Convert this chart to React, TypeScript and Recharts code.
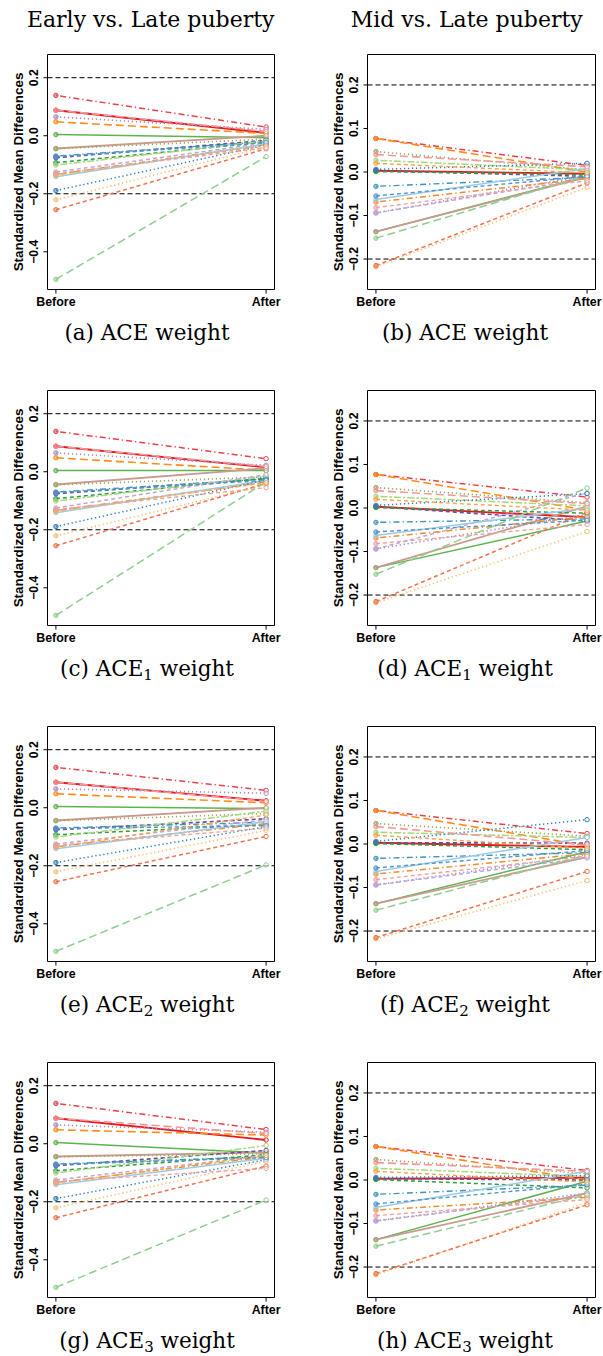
import React from 'react';
import { LineChart, Line, XAxis, YAxis, ReferenceLine, ReferenceArea } from 'recharts';

// ---------------- data ----------------
const timepoints = ['Before', 'After'];
const covariates = [
  'X1', 'X2', 'X3', 'X4', 'X5', 'X6', 'X7', 'X8', 'X9', 'X10', 'X11',
  'X12', 'X13', 'X14', 'X15', 'X16', 'X17', 'X18', 'X19', 'X20', 'X21', 'X22',
];

// Early vs. Late puberty (left column) – unweighted ("Before") values
const earlyBefore = [0.139, 0.088, 0.065, 0.048, 0.004, -0.044, -0.045, -0.076, -0.070, -0.093, -0.101,
  -0.125, -0.134, -0.141, -0.189, -0.221, -0.255, -0.495, 0.088, -0.072, -0.135, -0.130];
// Mid vs. Late puberty (right column) – unweighted ("Before") values
const midBefore = [0.077, 0.003, -0.094, 0.077, -0.137, -0.137, 0.047, 0.003, -0.033, 0.001, 0.027,
  -0.094, -0.069, -0.063, 0.006, -0.218, -0.215, -0.152, 0.040, -0.055, 0.020, -0.082];

// weighted ("After") values
const earlyAfterACE = [0.030, 0.010, 0.022, 0.008, -0.007, 0.000, -0.012, -0.016, -0.020, -0.022, -0.018,
  -0.025, -0.030, -0.028, -0.032, -0.038, -0.045, -0.072, 0.015, -0.024, -0.035, -0.042];
const midAfterACE = [0.015, -0.004, -0.008, 0.000, -0.010, -0.012, 0.005, -0.010, -0.012, -0.006, 0.005,
  -0.014, -0.015, 0.008, 0.020, -0.035, -0.025, -0.008, 0.012, -0.010, -0.002, -0.020];
const earlyAfterACE1 = [0.045, 0.015, 0.022, 0.005, 0.004, 0.012, -0.018, -0.024, -0.025, -0.022, -0.015,
  -0.010, -0.035, -0.030, -0.028, -0.045, -0.040, -0.035, 0.018, -0.030, -0.038, -0.055];
const midAfterACE1 = [0.025, -0.021, -0.015, -0.005, -0.030, 0.004, 0.012, -0.030, -0.025, -0.012, 0.005,
  0.035, -0.020, 0.000, 0.033, -0.054, -0.010, 0.046, 0.010, -0.028, -0.005, -0.038];
const earlyAfterACE2 = [0.060, 0.024, 0.050, 0.017, -0.003, 0.000, -0.020, -0.038, -0.050, -0.058, -0.012,
  -0.042, -0.055, -0.048, -0.065, -0.078, -0.099, -0.197, 0.022, -0.062, -0.025, -0.070];
const midAfterACE2 = [0.024, -0.007, -0.025, -0.004, -0.018, -0.030, 0.018, 0.002, -0.020, -0.013, 0.015,
  -0.032, -0.022, 0.015, 0.056, -0.084, -0.063, -0.025, -0.002, -0.015, -0.010, -0.028];
const earlyAfterACE3 = [0.049, 0.013, 0.040, 0.030, -0.032, -0.030, -0.035, -0.023, -0.045, -0.038, -0.006,
  -0.040, -0.045, -0.050, -0.055, -0.060, -0.077, -0.194, 0.035, -0.048, -0.040, -0.085];
const midAfterACE3 = [0.022, 0.005, -0.030, 0.000, -0.003, -0.030, 0.015, 0.000, -0.012, -0.018, 0.008,
  -0.035, -0.040, 0.020, 0.010, -0.052, -0.057, -0.034, 0.020, -0.010, -0.005, -0.045];

const earlyTicks = [-0.4, -0.2, 0, 0.2];
const midTicks = [-0.2, -0.1, 0, 0.1, 0.2];
const earlyDomain: [number, number] = [-0.53, 0.28];
const midDomain: [number, number] = [-0.27, 0.27];
const thresholds = [0.2, -0.2];

const columnTitles = ['Early vs. Late puberty', 'Mid vs. Late puberty'];
const captionLetters = [['a', 'b'], ['c', 'd'], ['e', 'f'], ['g', 'h']];
const captionSubs = ['', '1', '2', '3'];

// ---------------- styles ----------------
const DOT = '1.3 2.7';
const DASH = '4 3';
const LONG = '8 4';
const DOTDASH = '1.3 3 6 3';
const TWODASH = '2.5 2 7 2';

const lineStyles = [
  { color: '#E8434A', dash: DOTDASH, w: 1.5 },
  { color: '#E41A1C', dash: undefined, w: 1.9 },
  { color: '#A98BC9', dash: DOT, w: 1.6 },
  { color: '#FF8C1A', dash: LONG, w: 1.6 },
  { color: '#5DB44F', dash: undefined, w: 1.5 },
  { color: '#C99A90', dash: undefined, w: 1.8 },
  { color: '#9DAA63', dash: DOT, w: 1.6 },
  { color: '#6A4C9C', dash: DASH, w: 1.6 },
  { color: '#3F93B5', dash: DOTDASH, w: 1.4 },
  { color: '#2E9E45', dash: DASH, w: 1.5 },
  { color: '#A7D77E', dash: TWODASH, w: 1.5 },
  { color: '#BFA6D8', dash: DASH, w: 1.5 },
  { color: '#F58B2C', dash: DOTDASH, w: 1.5 },
  { color: '#9DCBE6', dash: undefined, w: 1.5 },
  { color: '#2F7FC0', dash: DOT, w: 1.5 },
  { color: '#FDC077', dash: DOT, w: 1.6 },
  { color: '#F07350', dash: DASH, w: 1.5 },
  { color: '#8ECF8F', dash: LONG, w: 1.5 },
  { color: '#F3979B', dash: LONG, w: 1.6 },
  { color: '#5095CC', dash: DASH, w: 1.4 },
  { color: '#F9A54A', dash: DASH, w: 1.4 },
  { color: '#E8A5A0', dash: DASH, w: 1.4 },
];

const SANS = '"Liberation Sans", Arial, Helvetica, sans-serif';
const SERIF = '"DejaVu Serif", serif';

const fmt = (v: number) => {
  const s = Math.abs(v).toFixed(1);
  return v < -1e-9 ? '\u2212' + s : s;
};

const XTick = (props: any) => {
  const { x, y, payload } = props;
  return (
    <text x={x} y={y + 12.4} textAnchor="middle" fontFamily={SANS} fontWeight="bold" fontSize={12.4} fill="#000">
      {timepoints[Math.round(payload.value) - 1]}
    </text>
  );
};

const YTick = (props: any) => {
  const { x, y, payload } = props;
  const bx = x - 5.7;
  return (
    <text x={bx} y={y} transform={`rotate(-90 ${bx} ${y})`} textAnchor="middle" fontFamily={SANS}
      fontWeight="bold" fontSize={12.2} fill="#000">
      {fmt(payload.value)}
    </text>
  );
};

const YTitle = (props: any) => {
  const { ax, my } = props;
  const bx = ax - 25;
  return (
    <text x={bx} y={my} transform={`rotate(-90 ${bx} ${my})`} textAnchor="middle" fontFamily={SANS}
      fontWeight="bold" fontSize={13.4} fill="#000">
      Standardized Mean Differences
    </text>
  );
};

const PLOT_TOP = 14.5;
const PLOT_H = 235;
const CHART_H = 280;

function Panel(props: {
  left: number; top: number; width: number; yAxisW: number; rightM: number;
  before: number[]; after: number[]; domain: [number, number]; ticks: number[];
}) {
  const { left, top, width, yAxisW, rightM, before, after, domain, ticks } = props;
  const data = timepoints.map((t, i) => {
    const row: any = { x: i + 1, label: t };
    covariates.forEach((c, j) => {
      row[c] = i === 0 ? before[j] : after[j];
    });
    return row;
  });
  return (
    <div style={{ position: 'absolute', left, top, width, height: CHART_H }}>
      <LineChart width={width} height={CHART_H} data={data}
        margin={{ top: PLOT_TOP, right: rightM, bottom: 0, left: 0 }}>
        <XAxis type="number" dataKey="x" domain={[0.96, 2.04]} ticks={[1, 2]} interval={0}
          height={CHART_H - PLOT_TOP - PLOT_H} axisLine={false} tickLine={{ stroke: '#000' }}
          tickSize={4} tickMargin={0} tick={<XTick />} allowDataOverflow />
        <YAxis type="number" domain={domain} ticks={ticks} interval={0} width={yAxisW}
          axisLine={false} tickLine={{ stroke: '#000' }} tickSize={4} tickMargin={0}
          tick={<YTick />} allowDataOverflow
          label={<YTitle ax={yAxisW} my={PLOT_TOP + PLOT_H / 2} />} />
        {thresholds.map((t) => (
          <ReferenceLine key={t} y={t} stroke="#000" strokeWidth={1} strokeDasharray="5 3" />
        ))}
        {covariates.map((c, j) => {
          const st = lineStyles[j];
          return (
            <Line key={c} type="linear" dataKey={c} stroke={st.color} strokeWidth={st.w}
              strokeDasharray={st.dash} isAnimationActive={false} activeDot={false}
              dot={(p: any) => (
                <circle key={`${c}-${p.index}`} cx={p.cx} cy={p.cy} r={2.2}
                  fill={p.index === 0 ? st.color : '#fff'} fillOpacity={p.index === 0 ? 0.55 : 0.6}
                  stroke={st.color} strokeWidth={1} />
              )} />
          );
        })}
        <ReferenceArea x1={0.96} x2={2.04} y1={domain[0]} y2={domain[1]} fill="none"
          fillOpacity={0} stroke="#000" strokeWidth={1} ifOverflow="visible" />
      </LineChart>
    </div>
  );
}

const rowsAfter = [
  [earlyAfterACE, midAfterACE],
  [earlyAfterACE1, midAfterACE1],
  [earlyAfterACE2, midAfterACE2],
  [earlyAfterACE3, midAfterACE3],
];

export default function App() {
  const ROW = 336;
  return (
    <div style={{ position: 'absolute', left: 0, top: 0, width: 603, height: 1356, background: '#fff' }}>
      {rowsAfter.map((pair, r) => (
        <React.Fragment key={r}>
          <Panel left={0} top={40 + r * ROW} width={300} yAxisW={47.5} rightM={25.5}
            before={earlyBefore} after={pair[0]} domain={earlyDomain} ticks={earlyTicks} />
          <Panel left={300} top={40 + r * ROW} width={303} yAxisW={67.5} rightM={7.5}
            before={midBefore} after={pair[1]} domain={midDomain} ticks={midTicks} />
        </React.Fragment>
      ))}
      <svg width={603} height={1356} style={{ position: 'absolute', left: 0, top: 0, pointerEvents: 'none' }}>
        <text x={150.7} y={26.7} textAnchor="middle" fontFamily={SERIF} fontSize={22} fill="#000">
          {columnTitles[0]}
        </text>
        <text x={466.7} y={26.7} textAnchor="middle" fontFamily={SERIF} fontSize={22} fill="#000">
          {columnTitles[1]}
        </text>
        {captionLetters.map((pair, r) =>
          pair.map((letter, c) => (
            <text key={`${r}-${c}`} x={c === 0 ? 147 : 465} y={339.5 + r * ROW} textAnchor="middle"
              fontFamily={SERIF} fontSize={21.5} fill="#000">
              {`(${letter}) ACE`}
              {captionSubs[r] ? (
                <>
                  <tspan fontSize={15} dy={4}>{captionSubs[r]}</tspan>
                  <tspan dy={-4}>{' weight'}</tspan>
                </>
              ) : (
                <tspan>{' weight'}</tspan>
              )}
            </text>
          ))
        )}
      </svg>
    </div>
  );
}
